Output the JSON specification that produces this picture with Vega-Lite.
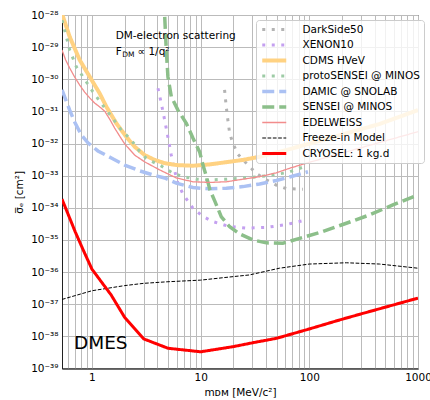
{
  "$schema": "https://vega.github.io/schema/vega-lite/v6.json",
  "autosize": {"type": "none"},
  "padding": {"left": 62, "top": 15, "right": 12, "bottom": 31.5},
  "width": 356,
  "height": 353.5,
  "config": {
    "font": "DejaVu Sans",
    "view": {"stroke": "#222222", "strokeWidth": 1},
    "axis": {
      "labelFont": "DejaVu Sans", "labelFontSize": 10.5, "labelColor": "#000000",
      "titleFont": "DejaVu Sans", "titleFontSize": 10.5, "titleFontWeight": "normal", "titleColor": "#000000",
      "gridColor": "#bbbbbb", "gridWidth": 1, "gridOpacity": 1,
      "domainColor": "#222222", "ticks": false, "labelPadding": 4
    },
    "legend": {
      "orient": "none", "legendX": 194, "legendY": 5,
      "fillColor": "rgba(255,255,255,0.8)", "strokeColor": "#cccccc", "cornerRadius": 3,
      "padding": 4, "rowPadding": 4.5, "clipHeight": 11,
      "labelFont": "DejaVu Sans", "labelFontSize": 10.5, "labelColor": "#000000",
      "symbolType": "M-4,0H4", "symbolSize": 36, "symbolOffset": 9, "labelOffset": 23, "labelLimit": 200
    }
  },
  "datasets": {
    "curves": [
      {"s": "DarkSide50", "x": 16.6, "y": 4.68e-31},
      {"s": "DarkSide50", "x": 17.2, "y": 1.41e-31},
      {"s": "DarkSide50", "x": 17.8, "y": 5.37e-32},
      {"s": "DarkSide50", "x": 18.5, "y": 2.09e-32},
      {"s": "DarkSide50", "x": 19.8, "y": 1.02e-32},
      {"s": "DarkSide50", "x": 22.0, "y": 4.68e-33},
      {"s": "DarkSide50", "x": 25.4, "y": 2.75e-33},
      {"s": "DarkSide50", "x": 29.2, "y": 1.70e-33},
      {"s": "DarkSide50", "x": 32.5, "y": 1.17e-33},
      {"s": "DarkSide50", "x": 40.2, "y": 7.41e-34},
      {"s": "DarkSide50", "x": 51.4, "y": 4.79e-34},
      {"s": "DarkSide50", "x": 61.4, "y": 3.98e-34},
      {"s": "DarkSide50", "x": 87.3, "y": 3.80e-34},

      {"s": "XENON10", "x": 4.05, "y": 5.25e-31},
      {"s": "XENON10", "x": 4.345, "y": 1.78e-31},
      {"s": "XENON10", "x": 4.667, "y": 5.37e-32},
      {"s": "XENON10", "x": 5.0, "y": 1.58e-32},
      {"s": "XENON10", "x": 5.37, "y": 4.37e-33},
      {"s": "XENON10", "x": 5.77, "y": 1.41e-33},
      {"s": "XENON10", "x": 6.18, "y": 5.75e-34},
      {"s": "XENON10", "x": 6.87, "y": 2.69e-34},
      {"s": "XENON10", "x": 8.49, "y": 9.77e-35},
      {"s": "XENON10", "x": 10.5, "y": 5.37e-35},
      {"s": "XENON10", "x": 12.97, "y": 3.72e-35},
      {"s": "XENON10", "x": 17.8, "y": 2.69e-35},
      {"s": "XENON10", "x": 26.3, "y": 2.34e-35},
      {"s": "XENON10", "x": 40.2, "y": 2.45e-35},
      {"s": "XENON10", "x": 61.4, "y": 3.02e-35},
      {"s": "XENON10", "x": 90.6, "y": 4.07e-35},

      {"s": "CDMS HVeV", "x": 0.53, "y": 1.1e-28},
      {"s": "CDMS HVeV", "x": 0.541, "y": 8.91e-29},
      {"s": "CDMS HVeV", "x": 0.624, "y": 2.09e-29},
      {"s": "CDMS HVeV", "x": 0.771, "y": 3.98e-30},
      {"s": "CDMS HVeV", "x": 0.953, "y": 1.20e-30},
      {"s": "CDMS HVeV", "x": 1.178, "y": 3.63e-31},
      {"s": "CDMS HVeV", "x": 1.355, "y": 1.41e-31},
      {"s": "CDMS HVeV", "x": 1.675, "y": 4.27e-32},
      {"s": "CDMS HVeV", "x": 2.07, "y": 1.62e-32},
      {"s": "CDMS HVeV", "x": 2.472, "y": 7.94e-33},
      {"s": "CDMS HVeV", "x": 3.055, "y": 4.37e-33},
      {"s": "CDMS HVeV", "x": 3.776, "y": 3.09e-33},
      {"s": "CDMS HVeV", "x": 4.667, "y": 2.45e-33},
      {"s": "CDMS HVeV", "x": 5.97, "y": 2.14e-33},
      {"s": "CDMS HVeV", "x": 8.49, "y": 2.04e-33},
      {"s": "CDMS HVeV", "x": 12.08, "y": 2.24e-33},
      {"s": "CDMS HVeV", "x": 17.2, "y": 2.63e-33},
      {"s": "CDMS HVeV", "x": 24.5, "y": 3.09e-33},
      {"s": "CDMS HVeV", "x": 34.9, "y": 3.89e-33},
      {"s": "CDMS HVeV", "x": 53.3, "y": 5.50e-33},
      {"s": "CDMS HVeV", "x": 153.8, "y": 1.48e-32},
      {"s": "CDMS HVeV", "x": 443.6, "y": 4.07e-32},
      {"s": "CDMS HVeV", "x": 1000, "y": 1.10e-31},

      {"s": "protoSENSEI @ MINOS", "x": 0.53, "y": 6.92e-29},
      {"s": "protoSENSEI @ MINOS", "x": 0.581, "y": 2.09e-29},
      {"s": "protoSENSEI @ MINOS", "x": 0.624, "y": 8.13e-30},
      {"s": "protoSENSEI @ MINOS", "x": 0.718, "y": 2.45e-30},
      {"s": "protoSENSEI @ MINOS", "x": 0.826, "y": 1.20e-30},
      {"s": "protoSENSEI @ MINOS", "x": 1.021, "y": 4.07e-31},
      {"s": "protoSENSEI @ MINOS", "x": 1.219, "y": 1.78e-31},
      {"s": "protoSENSEI @ MINOS", "x": 1.507, "y": 6.92e-32},
      {"s": "protoSENSEI @ MINOS", "x": 1.862, "y": 2.63e-32},
      {"s": "protoSENSEI @ MINOS", "x": 2.301, "y": 1.29e-32},
      {"s": "protoSENSEI @ MINOS", "x": 2.748, "y": 5.62e-33},
      {"s": "protoSENSEI @ MINOS", "x": 3.162, "y": 3.47e-33},
      {"s": "protoSENSEI @ MINOS", "x": 3.639, "y": 2.69e-33},
      {"s": "protoSENSEI @ MINOS", "x": 4.345, "y": 2.00e-33},
      {"s": "protoSENSEI @ MINOS", "x": 5.559, "y": 1.20e-33},
      {"s": "protoSENSEI @ MINOS", "x": 6.871, "y": 9.33e-34},
      {"s": "protoSENSEI @ MINOS", "x": 9.12, "y": 7.76e-34},
      {"s": "protoSENSEI @ MINOS", "x": 12.1, "y": 7.41e-34},
      {"s": "protoSENSEI @ MINOS", "x": 17.2, "y": 7.76e-34},
      {"s": "protoSENSEI @ MINOS", "x": 24.5, "y": 8.51e-34},
      {"s": "protoSENSEI @ MINOS", "x": 34.9, "y": 9.33e-34},
      {"s": "protoSENSEI @ MINOS", "x": 49.7, "y": 1.10e-33},
      {"s": "protoSENSEI @ MINOS", "x": 63.5, "y": 1.26e-33},
      {"s": "protoSENSEI @ MINOS", "x": 93.8, "y": 2.00e-33},

      {"s": "DAMIC @ SNOLAB", "x": 0.53, "y": 4.68e-31},
      {"s": "DAMIC @ SNOLAB", "x": 0.624, "y": 1.10e-31},
      {"s": "DAMIC @ SNOLAB", "x": 0.693, "y": 4.68e-32},
      {"s": "DAMIC @ SNOLAB", "x": 0.798, "y": 1.86e-32},
      {"s": "DAMIC @ SNOLAB", "x": 0.918, "y": 1.05e-32},
      {"s": "DAMIC @ SNOLAB", "x": 1.135, "y": 5.89e-33},
      {"s": "DAMIC @ SNOLAB", "x": 1.507, "y": 3.55e-33},
      {"s": "DAMIC @ SNOLAB", "x": 2.0, "y": 2.14e-33},
      {"s": "DAMIC @ SNOLAB", "x": 2.748, "y": 1.41e-33},
      {"s": "DAMIC @ SNOLAB", "x": 3.776, "y": 1.02e-33},
      {"s": "DAMIC @ SNOLAB", "x": 4.667, "y": 8.51e-34},
      {"s": "DAMIC @ SNOLAB", "x": 5.97, "y": 5.89e-34},
      {"s": "DAMIC @ SNOLAB", "x": 8.49, "y": 4.27e-34},
      {"s": "DAMIC @ SNOLAB", "x": 12.1, "y": 3.89e-34},
      {"s": "DAMIC @ SNOLAB", "x": 17.2, "y": 4.07e-34},
      {"s": "DAMIC @ SNOLAB", "x": 24.5, "y": 4.57e-34},
      {"s": "DAMIC @ SNOLAB", "x": 34.9, "y": 5.50e-34},
      {"s": "DAMIC @ SNOLAB", "x": 49.7, "y": 7.08e-34},
      {"s": "DAMIC @ SNOLAB", "x": 65.9, "y": 9.12e-34},
      {"s": "DAMIC @ SNOLAB", "x": 97.1, "y": 1.32e-33},

      {"s": "SENSEI @ MINOS", "x": 4.62, "y": 2.95e-28},
      {"s": "SENSEI @ MINOS", "x": 4.67, "y": 8.9e-29},
      {"s": "SENSEI @ MINOS", "x": 4.83, "y": 8.13e-30},
      {"s": "SENSEI @ MINOS", "x": 5.0, "y": 1.20e-30},
      {"s": "SENSEI @ MINOS", "x": 5.37, "y": 2.88e-31},
      {"s": "SENSEI @ MINOS", "x": 6.18, "y": 1.10e-31},
      {"s": "SENSEI @ MINOS", "x": 7.38, "y": 4.27e-32},
      {"s": "SENSEI @ MINOS", "x": 8.49, "y": 1.48e-32},
      {"s": "SENSEI @ MINOS", "x": 9.79, "y": 5.50e-33},
      {"s": "SENSEI @ MINOS", "x": 10.5, "y": 2.14e-33},
      {"s": "SENSEI @ MINOS", "x": 11.4, "y": 8.51e-34},
      {"s": "SENSEI @ MINOS", "x": 12.2, "y": 3.55e-34},
      {"s": "SENSEI @ MINOS", "x": 13.5, "y": 1.62e-34},
      {"s": "SENSEI @ MINOS", "x": 15.5, "y": 5.25e-35},
      {"s": "SENSEI @ MINOS", "x": 18.5, "y": 2.57e-35},
      {"s": "SENSEI @ MINOS", "x": 22.8, "y": 1.55e-35},
      {"s": "SENSEI @ MINOS", "x": 30.3, "y": 1.00e-35},
      {"s": "SENSEI @ MINOS", "x": 40.2, "y": 8.13e-36},
      {"s": "SENSEI @ MINOS", "x": 57.1, "y": 7.94e-36},
      {"s": "SENSEI @ MINOS", "x": 81.5, "y": 1.12e-35},
      {"s": "SENSEI @ MINOS", "x": 133, "y": 1.82e-35},
      {"s": "SENSEI @ MINOS", "x": 219, "y": 3.31e-35},
      {"s": "SENSEI @ MINOS", "x": 359, "y": 6.03e-35},
      {"s": "SENSEI @ MINOS", "x": 587, "y": 1.23e-34},
      {"s": "SENSEI @ MINOS", "x": 1000, "y": 2.51e-34},

      {"s": "EDELWEISS", "x": 0.53, "y": 8.13e-30},
      {"s": "EDELWEISS", "x": 0.573, "y": 3.98e-30},
      {"s": "EDELWEISS", "x": 0.624, "y": 2.24e-30},
      {"s": "EDELWEISS", "x": 0.693, "y": 1.17e-30},
      {"s": "EDELWEISS", "x": 0.771, "y": 6.61e-31},
      {"s": "EDELWEISS", "x": 0.857, "y": 3.98e-31},
      {"s": "EDELWEISS", "x": 0.953, "y": 2.63e-31},
      {"s": "EDELWEISS", "x": 1.059, "y": 1.82e-31},
      {"s": "EDELWEISS", "x": 1.178, "y": 1.38e-31},
      {"s": "EDELWEISS", "x": 1.309, "y": 1.02e-31},
      {"s": "EDELWEISS", "x": 1.455, "y": 5.75e-32},
      {"s": "EDELWEISS", "x": 1.618, "y": 3.02e-32},
      {"s": "EDELWEISS", "x": 1.799, "y": 1.70e-32},
      {"s": "EDELWEISS", "x": 2.0, "y": 9.77e-33},
      {"s": "EDELWEISS", "x": 2.472, "y": 4.37e-33},
      {"s": "EDELWEISS", "x": 3.055, "y": 2.69e-33},
      {"s": "EDELWEISS", "x": 4.198, "y": 1.51e-33},
      {"s": "EDELWEISS", "x": 5.97, "y": 8.51e-34},
      {"s": "EDELWEISS", "x": 8.49, "y": 6.46e-34},
      {"s": "EDELWEISS", "x": 12.08, "y": 6.17e-34},
      {"s": "EDELWEISS", "x": 17.2, "y": 6.46e-34},
      {"s": "EDELWEISS", "x": 24.5, "y": 7.76e-34},
      {"s": "EDELWEISS", "x": 34.9, "y": 9.33e-34},
      {"s": "EDELWEISS", "x": 49.7, "y": 1.23e-33},
      {"s": "EDELWEISS", "x": 65.9, "y": 1.70e-33},
      {"s": "EDELWEISS", "x": 93.8, "y": 2.45e-33},
      {"s": "EDELWEISS", "x": 1000, "y": 2.34e-32},

      {"s": "Freeze-in Model", "x": 0.53, "y": 1.41e-37},
      {"s": "Freeze-in Model", "x": 1, "y": 2.63e-37},
      {"s": "Freeze-in Model", "x": 2, "y": 3.80e-37},
      {"s": "Freeze-in Model", "x": 3, "y": 4.47e-37},
      {"s": "Freeze-in Model", "x": 5, "y": 5.01e-37},
      {"s": "Freeze-in Model", "x": 10, "y": 5.62e-37},
      {"s": "Freeze-in Model", "x": 20, "y": 7.24e-37},
      {"s": "Freeze-in Model", "x": 28, "y": 8.13e-37},
      {"s": "Freeze-in Model", "x": 53, "y": 1.32e-36},
      {"s": "Freeze-in Model", "x": 100, "y": 1.78e-36},
      {"s": "Freeze-in Model", "x": 219, "y": 1.95e-36},
      {"s": "Freeze-in Model", "x": 443, "y": 1.78e-36},
      {"s": "Freeze-in Model", "x": 1000, "y": 1.32e-36},

      {"s": "CRYOSEL: 1 kg.d", "x": 0.53, "y": 1.86e-34},
      {"s": "CRYOSEL: 1 kg.d", "x": 0.70, "y": 1.82e-35},
      {"s": "CRYOSEL: 1 kg.d", "x": 0.83, "y": 4.90e-36},
      {"s": "CRYOSEL: 1 kg.d", "x": 1.0, "y": 1.23e-36},
      {"s": "CRYOSEL: 1 kg.d", "x": 1.5, "y": 1.95e-37},
      {"s": "CRYOSEL: 1 kg.d", "x": 2.0, "y": 3.89e-38},
      {"s": "CRYOSEL: 1 kg.d", "x": 3.0, "y": 8.32e-39},
      {"s": "CRYOSEL: 1 kg.d", "x": 5.0, "y": 4.27e-39},
      {"s": "CRYOSEL: 1 kg.d", "x": 10, "y": 3.31e-39},
      {"s": "CRYOSEL: 1 kg.d", "x": 20, "y": 4.79e-39},
      {"s": "CRYOSEL: 1 kg.d", "x": 30, "y": 6.31e-39},
      {"s": "CRYOSEL: 1 kg.d", "x": 50, "y": 8.71e-39},
      {"s": "CRYOSEL: 1 kg.d", "x": 100, "y": 1.70e-38},
      {"s": "CRYOSEL: 1 kg.d", "x": 190, "y": 3.24e-38},
      {"s": "CRYOSEL: 1 kg.d", "x": 300, "y": 5.01e-38},
      {"s": "CRYOSEL: 1 kg.d", "x": 1000, "y": 1.55e-37}
    ]
  },
  "layer": [
    {
      "data": {"name": "curves"},
      "mark": {"type": "line", "clip": true},
      "encoding": {
        "x": {
          "field": "x", "type": "quantitative",
          "scale": {"type": "log", "domain": [0.53, 1000], "nice": false},
          "axis": {
            "title": "mᴅᴍ [MeV/c²]",
            "values": [0.6,0.7,0.8,0.9,1,2,3,4,5,6,7,8,9,10,20,30,40,50,60,70,80,90,100,200,300,400,500,600,700,800,900,1000],
            "labelExpr": "indexof([1,10,100,1000], datum.value) >= 0 ? format(datum.value, 'd') : ''",
            "labelOverlap": false, "labelBound": false, "labelFlush": false,
            "titlePadding": 4, "grid": true
          }
        },
        "y": {
          "field": "y", "type": "quantitative",
          "scale": {"type": "log", "domain": [1e-39, 1e-28], "nice": false},
          "axis": {
            "title": "σ̅ₑ [cm²]",
            "values": [1e-39,1e-38,1e-37,1e-36,1e-35,1e-34,1e-33,1e-32,1e-31,1e-30,1e-29,1e-28],
            "labelExpr": "'10' + ['⁻²⁸','⁻²⁹','⁻³⁰','⁻³¹','⁻³²','⁻³³','⁻³⁴','⁻³⁵','⁻³⁶','⁻³⁷','⁻³⁸','⁻³⁹'][-28 - round(log(datum.value)/LN10)]",
            "labelOverlap": false, "labelBound": false, "labelFlush": false,
            "titlePadding": 6, "grid": true
          }
        },
        "color": {
          "field": "s", "type": "nominal",
          "scale": {
            "domain": ["DarkSide50","XENON10","CDMS HVeV","protoSENSEI @ MINOS","DAMIC @ SNOLAB","SENSEI @ MINOS","EDELWEISS","Freeze-in Model","CRYOSEL: 1 kg.d"],
            "range": ["#b3b3b3","#c4a0f0","#ffd282","#9dcba5","#abc1f3","#8cbf8a","#f28c8c","#000000","#ff0000"]
          },
          "legend": {"title": null}
        },
        "strokeDash": {
          "field": "s", "type": "nominal",
          "scale": {
            "domain": ["DarkSide50","XENON10","CDMS HVeV","protoSENSEI @ MINOS","DAMIC @ SNOLAB","SENSEI @ MINOS","EDELWEISS","Freeze-in Model","CRYOSEL: 1 kg.d"],
            "range": [[3,6.5],[3,6.5],[1,0],[3,6.5],[12,5],[12,5],[1,0],[3.7,1.6],[1,0]]
          },
          "legend": {"title": null}
        },
        "strokeWidth": {
          "field": "s", "type": "nominal",
          "scale": {
            "type": "ordinal",
            "domain": ["DarkSide50","XENON10","CDMS HVeV","protoSENSEI @ MINOS","DAMIC @ SNOLAB","SENSEI @ MINOS","EDELWEISS","Freeze-in Model","CRYOSEL: 1 kg.d"],
            "range": [3,3,4,3,3.5,3.5,1.3,1,3]
          },
          "legend": {"title": null}
        }
      }
    },
    {
      "data": {"values": [
        {"t": "DM-electron scattering", "x": 1.652, "y": 1.75e-29},
        {"t": "F", "x": 1.652, "y": 5.9e-30},
        {"t": "∝ 1/q²", "x": 2.63, "y": 5.9e-30}
      ]},
      "mark": {"type": "text", "align": "left", "baseline": "alphabetic", "fontSize": 10.5, "font": "DejaVu Sans", "color": "#000000"},
      "encoding": {
        "x": {"field": "x", "type": "quantitative"},
        "y": {"field": "y", "type": "quantitative"},
        "text": {"field": "t"}
      }
    },
    {
      "data": {"values": [
        {"t": "DM", "x": 1.896, "y": 4.93e-30}
      ]},
      "mark": {"type": "text", "align": "left", "baseline": "alphabetic", "fontSize": 7.5, "font": "DejaVu Sans", "color": "#000000"},
      "encoding": {
        "x": {"field": "x", "type": "quantitative"},
        "y": {"field": "y", "type": "quantitative"},
        "text": {"field": "t"}
      }
    },
    {
      "data": {"values": [
        {"t": "DMES", "x": 0.683, "y": 4.06e-39}
      ]},
      "mark": {"type": "text", "align": "left", "baseline": "alphabetic", "fontSize": 18.5, "font": "DejaVu Sans", "color": "#000000"},
      "encoding": {
        "x": {"field": "x", "type": "quantitative"},
        "y": {"field": "y", "type": "quantitative"},
        "text": {"field": "t"}
      }
    }
  ]
}
